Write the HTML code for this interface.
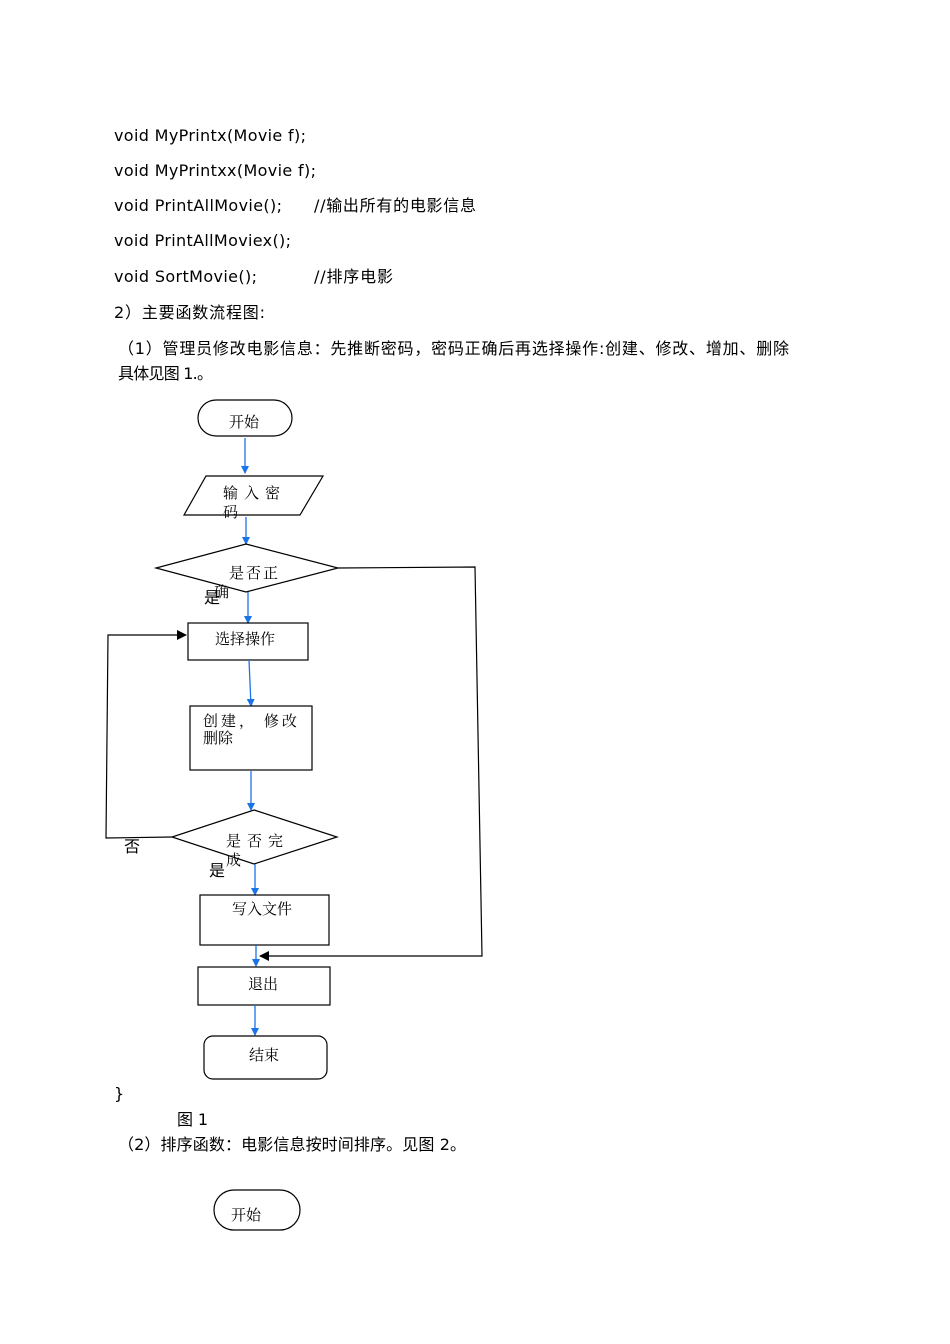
<!DOCTYPE html>
<html><head><meta charset="utf-8"><style>
html,body{margin:0;padding:0;background:#fff;width:950px;height:1344px;overflow:hidden}
svg{display:block}
.t{font-family:"DejaVu Sans","Noto Sans CJK SC",sans-serif;font-size:16px;fill:#000}
.s{font-family:"Noto Serif CJK SC","Noto Sans CJK SC",serif;font-size:15px;fill:#000}
.b{stroke:#1a73e8;stroke-width:1.3;fill:none}
.k{stroke:#000;stroke-width:1.2;fill:none}
</style></head><body>
<svg width="950" height="1344" viewBox="0 0 950 1344">
<defs>
<marker id="ab" markerWidth="8" markerHeight="8" refX="7" refY="4" orient="auto" markerUnits="userSpaceOnUse"><path d="M0,0 L8,4 L0,8z" fill="#1a73e8"/></marker>
<marker id="ak" markerWidth="10" markerHeight="10" refX="9" refY="5" orient="auto" markerUnits="userSpaceOnUse"><path d="M0,0 L10,5 L0,10z" fill="#000"/></marker>
</defs>
<text class="t" x="114" y="141" textLength="192" lengthAdjust="spacing">void MyPrintx(Movie f);</text>
<text class="t" x="114" y="176" textLength="202" lengthAdjust="spacing">void MyPrintxx(Movie f);</text>
<text class="t" x="114" y="211" textLength="168" lengthAdjust="spacing">void PrintAllMovie();</text>
<text class="t" x="314" y="211" textLength="162" lengthAdjust="spacing">//输出所有的电影信息</text>
<text class="t" x="114" y="246" textLength="177" lengthAdjust="spacing">void PrintAllMoviex();</text>
<text class="t" x="114" y="282" textLength="143" lengthAdjust="spacing">void SortMovie();</text>
<text class="t" x="314" y="282" textLength="79" lengthAdjust="spacing">//排序电影</text>
<text class="t" x="114" y="318" textLength="151" lengthAdjust="spacing">2）主要函数流程图:</text>
<text class="t" x="118" y="354" textLength="671" lengthAdjust="spacing">（1）管理员修改电影信息：先推断密码，密码正确后再选择操作:创建、修改、增加、删除</text>
<text class="t" x="118" y="379" textLength="95" lengthAdjust="spacing">具体见图 1.。</text>

<rect x="198" y="400" width="94" height="36" rx="18" class="k"/>
<text class="s" x="229" y="427">开始</text>
<line x1="245" y1="438" x2="245" y2="473" class="b" marker-end="url(#ab)"/>
<polygon points="206,476 323,476 300,515 184,515" class="k"/>
<text class="s" x="223" y="498" letter-spacing="6">输入密</text>
<text class="s" x="223" y="517">码</text>
<line x1="246" y1="517" x2="246" y2="544" class="b" marker-end="url(#ab)"/>
<polygon points="246,544 338,568 246,592 156,568" class="k"/>
<text class="s" x="229" y="578" letter-spacing="2">是否正</text>
<text class="s" x="214" y="597" font-size="12">确</text>
<text class="t" x="204" y="603">是</text>
<polyline points="338,568 475,567 482,956 260,956" class="k" marker-end="url(#ak)"/>
<line x1="248" y1="592" x2="248" y2="623" class="b" marker-end="url(#ab)"/>
<rect x="188" y="623" width="120" height="37" class="k"/>
<text class="s" x="215" y="644">选择操作</text>
<line x1="249" y1="660" x2="251" y2="706" class="b" marker-end="url(#ab)"/>
<rect x="190" y="706" width="122" height="64" class="k"/>
<text class="s" x="203" y="726" letter-spacing="3">创建， 修改</text>
<text class="s" x="203" y="743">删除</text>
<line x1="251" y1="771" x2="251" y2="810" class="b" marker-end="url(#ab)"/>
<polygon points="254,810 337,837 254,864 172,837" class="k"/>
<text class="s" x="226" y="846" letter-spacing="6">是否完</text>
<text class="s" x="226" y="865">成</text>
<text class="t" x="209" y="876">是</text>
<text class="t" x="124" y="852">否</text>
<polyline points="172,837 106,838 108,635 186,635" class="k" marker-end="url(#ak)"/>
<line x1="255" y1="864" x2="255" y2="895" class="b" marker-end="url(#ab)"/>
<rect x="200" y="895" width="129" height="50" class="k"/>
<text class="s" x="232" y="914">写入文件</text>
<line x1="256" y1="945" x2="256" y2="966" class="b" marker-end="url(#ab)"/>
<rect x="198" y="967" width="132" height="38" class="k"/>
<text class="s" x="248" y="989">退出</text>
<line x1="255" y1="1005" x2="255" y2="1035" class="b" marker-end="url(#ab)"/>
<rect x="204" y="1036" width="123" height="43" rx="9" class="k"/>
<text class="s" x="249" y="1060">结束</text>

<text class="t" x="114" y="1099">}</text>
<text class="t" x="177" y="1125" textLength="31" lengthAdjust="spacing">图 1</text>
<text class="t" x="118" y="1150" textLength="348" lengthAdjust="spacing">（2）排序函数：电影信息按时间排序。见图 2。</text>
<rect x="214" y="1190" width="86" height="40" rx="20" class="k"/>
<text class="s" x="231" y="1220" font-size="17">开始</text>
</svg>
</body></html>
